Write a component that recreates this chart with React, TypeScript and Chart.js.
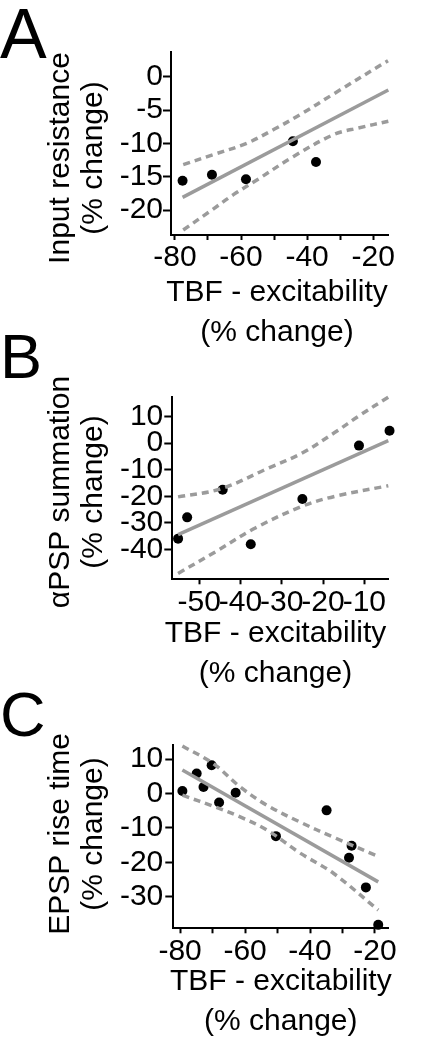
import React, { useEffect, useRef } from "react";
import { Chart, registerables } from "chart.js";

Chart.register(...registerables);

const FONT = "'Liberation Sans', Arial, sans-serif";

// ---------- Panel A : Input resistance ----------
const aPointsX = [-77.7, -68.8, -58.5, -44.3, -37.3];
const aPointsY = [-15.6, -14.7, -15.4, -9.7, -12.8];
const aFitX = [-77.7, -15.4];
const aFitY = [-18.1, -2.0];
const aUpperX = [-77.5, -68.4, -58.3, -50, -42.1, -32, -15.5];
const aUpperY = [-13.2, -11.7, -10.0, -7.9, -5.7, -2.6, 2.4];
const aLowerX = [-77.5, -69.4, -62.3, -55.2, -44.2, -32.0, -24.5, -15.4];
const aLowerY = [-23.0, -20.2, -17.7, -15.5, -12.0, -8.7, -7.7, -6.7];
const aXTicks = [-80, -70, -60, -50, -40, -30, -20];
const aXTickLabels = ["-80", "", "-60", "", "-40", "", "-20"];
const aYTicks = [0, -5, -10, -15, -20];
const aYTickLabels = ["0", "-5", "-10", "-15", "-20"];

// ---------- Panel B : aPSP summation ----------
const bPointsX = [-55.1, -52.9, -44.3, -37.5, -25.0, -11.3, -3.9];
const bPointsY = [-35.9, -27.9, -17.5, -38.0, -21.0, -0.9, 4.7];
const bFitX = [-55.1, -4.2];
const bFitY = [-34.4, 1.0];
const bUpperX = [-55.1, -44.6, -33.3, -25.2, -17.2, -11.0, -4.2];
const bUpperY = [-20.2, -17.1, -9.4, -3.8, 4.0, 10.6, 17.3];
const bLowerX = [-55.1, -46.1, -36.4, -25.2, -17.2, -4.2];
const bLowerY = [-49.0, -40.9, -31.9, -23.8, -20.0, -16.0];
const bXTicks = [-50, -40, -30, -20, -10];
const bXTickLabels = ["-50", "-40", "-30", "-20", "-10"];
const bYTicks = [10, 0, -10, -20, -30, -40];
const bYTickLabels = ["10", "0", "-10", "-20", "-30", "-40"];

// ---------- Panel C : EPSP rise time ----------
const cPointsX = [-79.3, -74.9, -72.8, -70.3, -68.0, -62.9, -50.5, -34.9, -28.0, -27.2, -22.8, -19.0];
const cPointsY = [0.7, 5.8, 1.9, 8.2, -2.6, 0.2, -12.4, -4.9, -18.7, -15.2, -27.3, -38.2];
const cFitX = [-79.3, -19.0];
const cFitY = [6.8, -25.7];
const cUpperX = [-79.3, -69.8, -61.5, -53.3, -43.1, -32.8, -19.0];
const cUpperY = [13.8, 8.7, 1.9, -3.4, -8.3, -12.7, -18.3];
const cLowerX = [-79.3, -69.8, -61.5, -53.3, -43.1, -32.8, -19.0];
const cLowerY = [-0.5, -3.7, -6.8, -10.6, -17.3, -23.2, -33.9];
const cXTicks = [-80, -70, -60, -50, -40, -30, -20];
const cXTickLabels = ["-80", "", "-60", "", "-40", "", "-20"];
const cYTicks = [10, 0, -10, -20, -30];
const cYTickLabels = ["10", "0", "-10", "-20", "-30"];

const xTitle = ["TBF - excitability", "(% change)"];

type Panel = {
  letter: string;
  letterSize: number;
  letterTop: number;
  top: number;
  height: number;
  area: { left: number; right: number; top: number; bottom: number };
  xMin: number; xMax: number; yMin: number; yMax: number;
  px: number[]; py: number[];
  fx: number[]; fy: number[];
  ux: number[]; uy: number[];
  lx: number[]; ly: number[];
  xTicks: number[]; xLabels: string[];
  yTicks: number[]; yLabels: string[];
  yPad: number;
  yTitle: string[];
  yTitleCenter: number;
  xTitleCenter: number;
  xTitleBase: number[];
};

const panels: Panel[] = [
  {
    letter: "A", letterSize: 70, letterTop: -1,
    top: 0, height: 350,
    area: { left: 171, right: 388, top: 52, bottom: 235 },
    xMin: -81.2, xMax: -15.5, yMin: -23.75, yMax: 3.7,
    px: aPointsX, py: aPointsY, fx: aFitX, fy: aFitY,
    ux: aUpperX, uy: aUpperY, lx: aLowerX, ly: aLowerY,
    xTicks: aXTicks, xLabels: aXTickLabels, yTicks: aYTicks, yLabels: aYTickLabels,
    yPad: 0,
    yTitle: ["Input resistance", "(% change)"], yTitleCenter: 158,
    xTitleCenter: 277, xTitleBase: [65.7, 106],
  },
  {
    letter: "B", letterSize: 63, letterTop: 325,
    top: 320, height: 370,
    area: { left: 172.3, right: 388.3, top: 76.7, bottom: 259.3 },
    xMin: -56.5, xMax: -4.2, yMin: -51.2, yMax: 17.5,
    px: bPointsX, py: bPointsY, fx: bFitX, fy: bFitY,
    ux: bUpperX, uy: bUpperY, lx: bLowerX, ly: bLowerY,
    xTicks: bXTicks, xLabels: bXTickLabels, yTicks: bYTicks, yLabels: bYTickLabels,
    yPad: 1,
    yTitle: ["\u03b1PSP summation", "(% change)"], yTitleCenter: 172,
    xTitleCenter: 275.5, xTitleBase: [62.5, 103],
  },
  {
    letter: "C", letterSize: 63, letterTop: 683,
    top: 680, height: 370,
    area: { left: 173.3, right: 388.3, top: 65, bottom: 248.3 },
    xMin: -82.1, xMax: -15.9, yMin: -39.2, yMax: 14.1,
    px: cPointsX, py: cPointsY, fx: cFitX, fy: cFitY,
    ux: cUpperX, uy: cUpperY, lx: cLowerX, ly: cLowerY,
    xTicks: cXTicks, xLabels: cXTickLabels, yTicks: cYTicks, yLabels: cYTickLabels,
    yPad: 2,
    yTitle: ["EPSP rise time", "(% change)"], yTitleCenter: 154,
    xTitleCenter: 280.8, xTitleBase: [61.7, 101.7],
  },
];

const GRAY = "#9b9b9b";
const W = 425;

function pts(xs: number[], ys: number[]) {
  return xs.map((x, i) => ({ x, y: ys[i] }));
}

function PanelChart({ p }: { p: Panel }) {
  const ref = useRef<HTMLCanvasElement | null>(null);
  useEffect(() => {
    if (!ref.current) return;
    const titlePlugin = {
      id: "panelTitles" + p.letter,
      afterDraw(chart: any) {
        const ctx = chart.ctx as CanvasRenderingContext2D;
        ctx.save();
        ctx.fillStyle = "#000";
        ctx.font = `30px ${FONT}`;
        ctx.textAlign = "center";
        ctx.textBaseline = "alphabetic";
        const yBases = [69, 102];
        p.yTitle.forEach((t, i) => {
          ctx.save();
          ctx.translate(yBases[i], p.yTitleCenter);
          ctx.rotate(-Math.PI / 2);
          ctx.fillText(t, 0, 0);
          ctx.restore();
        });
        const bottom = chart.chartArea.bottom;
        xTitle.forEach((t, i) => {
          ctx.fillText(t, p.xTitleCenter, bottom + p.xTitleBase[i]);
        });
        ctx.restore();
      },
    };
    const lineDs = (xs: number[], ys: number[], dashed: boolean) => ({
      data: pts(xs, ys),
      showLine: true,
      borderColor: GRAY,
      borderWidth: 3.5,
      borderDash: dashed ? [7, 5] : [],
      borderCapStyle: "butt",
      pointRadius: 0,
      pointHoverRadius: 0,
      tension: dashed ? 0.35 : 0,
      fill: false,
      clip: false,
    });
    const chart = new Chart(ref.current, {
      type: "scatter",
      data: {
        datasets: [
          lineDs(p.ux, p.uy, true),
          lineDs(p.lx, p.ly, true),
          lineDs(p.fx, p.fy, false),
          {
            data: pts(p.px, p.py),
            showLine: false,
            pointRadius: 5,
            pointBackgroundColor: "#000",
            pointBorderColor: "#000",
            pointBorderWidth: 0,
            clip: false,
          },
        ] as any,
      },
      options: {
        animation: false,
        responsive: false,
        maintainAspectRatio: false,
        events: [],
        layout: {
          padding: { left: 0, top: p.area.top, right: W - p.area.right, bottom: 0 },
        },
        plugins: { legend: { display: false }, tooltip: { enabled: false } },
        scales: {
          x: {
            type: "linear",
            min: p.xMin,
            max: p.xMax,
            afterBuildTicks: (s: any) => {
              s.ticks = p.xTicks.map((v) => ({ value: v }));
            },
            afterFit: (s: any) => {
              s.height = p.height - p.area.bottom;
            },
            ticks: {
              autoSkip: false,
              maxRotation: 0,
              minRotation: 0,
              padding: 0,
              color: "#000",
              font: { family: FONT, size: 30 },
              callback: (v: any) => {
                const i = p.xTicks.indexOf(Number(v));
                return i >= 0 ? p.xLabels[i] : "";
              },
            },
            grid: {
              drawOnChartArea: false,
              drawTicks: true,
              tickLength: 5,
              tickWidth: 2,
              tickColor: "#000",
            },
            border: { display: true, color: "#000", width: 2 },
          },
          y: {
            type: "linear",
            min: p.yMin,
            max: p.yMax,
            afterBuildTicks: (s: any) => {
              s.ticks = p.yTicks.map((v) => ({ value: v }));
            },
            afterFit: (s: any) => {
              s.width = p.area.left;
            },
            ticks: {
              autoSkip: false,
              padding: p.yPad,
              color: "#000",
              font: { family: FONT, size: 30 },
              callback: (v: any) => {
                const i = p.yTicks.indexOf(Number(v));
                return i >= 0 ? p.yLabels[i] : "";
              },
            },
            grid: {
              drawOnChartArea: false,
              drawTicks: true,
              tickLength: 8,
              tickWidth: 2,
              tickColor: "#000",
            },
            border: { display: true, color: "#000", width: 2 },
          },
        },
      } as any,
      plugins: [titlePlugin as any],
    });
    return () => chart.destroy();
  }, [p]);

  return (
    <>
      <canvas
        ref={ref}
        width={W}
        height={p.height}
        style={{ position: "absolute", left: 0, top: p.top, width: W, height: p.height }}
      />
      <div
        style={{
          position: "absolute",
          left: 0,
          top: p.letterTop,
          fontFamily: FONT,
          fontSize: p.letterSize,
          lineHeight: 1,
          color: "#000",
        }}
      >
        {p.letter}
      </div>
    </>
  );
}

export default function App() {
  return (
    <div
      style={{
        position: "absolute",
        left: 0,
        top: 0,
        width: W,
        height: 1050,
        background: "#fff",
        overflow: "hidden",
      }}
    >
      {panels.map((p) => (
        <PanelChart key={p.letter} p={p} />
      ))}
    </div>
  );
}
